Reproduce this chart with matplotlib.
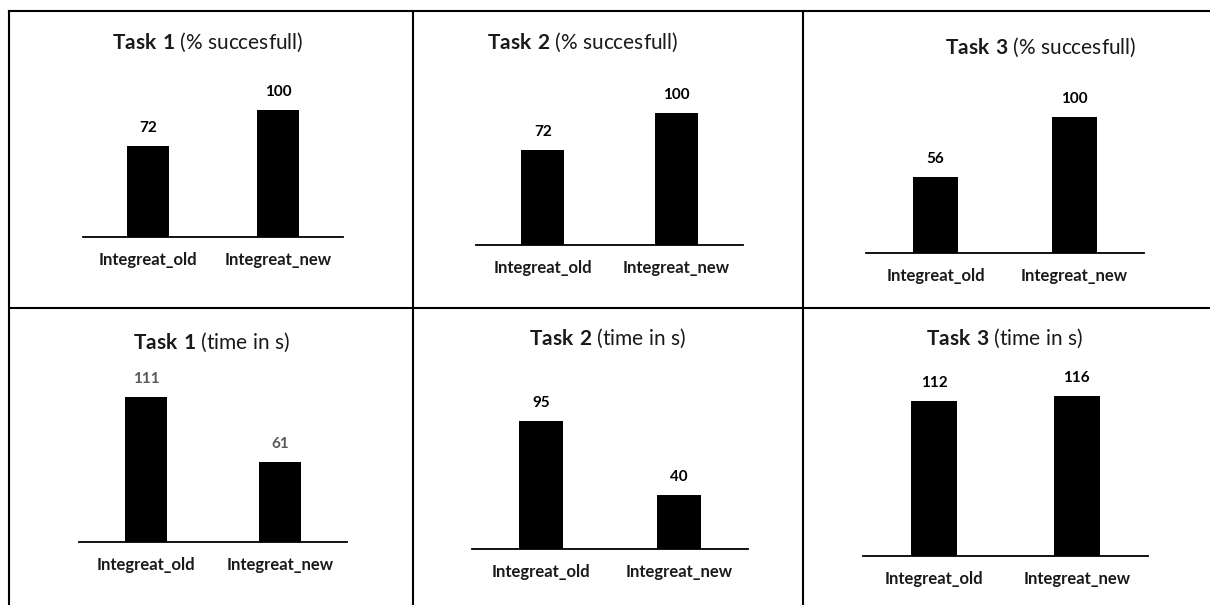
import matplotlib
matplotlib.use("Agg")
import matplotlib.pyplot as plt
from matplotlib.lines import Line2D

plt.rcParams['font.family'] = ['Lato', 'DejaVu Sans']
plt.rcParams['mathtext.fontset'] = 'custom'
plt.rcParams['mathtext.rm'] = 'Lato'
plt.rcParams['mathtext.bf'] = 'Lato:bold'

# data
categories = ["Integreat_old", "Integreat_new"]
tasks = ["Task 1", "Task 2", "Task 3"]
metrics = ["(% succesfull)", "(time in s)"]
success_pct = [[72, 100], [72, 100], [56, 100]]
time_s = [[111, 61], [95, 40], [112, 116]]

W, H = 1210, 605
fig = plt.figure(figsize=(W / 100, H / 100), dpi=100)

# layout per cell in pixels: baseline x0, x1, baseline y, px per unit, title x, title y
layout = [
    (83, 343, 237, 1.27, 208, 42),
    (476, 743, 245, 1.32, 583, 42),
    (866, 1144, 253, 1.36, 1041, 47),
    (79, 347, 542, 1.306, 211, 342),
    (472, 748, 549, 1.347, 607, 338),
    (863, 1148, 556, 1.382, 1004, 338),
]
label_colors = ["black", "black", "black", "#595959", "black", "black"]

rows = [success_pct, time_s]
k = 0
for r, metric in enumerate(metrics):
    for c, task in enumerate(tasks):
        x0, x1, base, scale, tx, ty = layout[k]
        h = 175
        ax = fig.add_axes([x0 / W, 1 - base / H, (x1 - x0) / W, h / H])
        vals = rows[r][c]
        xs = range(len(categories))
        bars = ax.bar(xs, vals, width=0.32, color="black")
        ax.set_xlim(-0.5, 1.5)
        ax.set_ylim(0, h / scale)
        for b, v in zip(bars, vals):
            ax.annotate(str(v), (b.get_x() + b.get_width() / 2, v),
                        xytext=(0, 13), textcoords="offset points",
                        ha="center", va="center", fontsize=11,
                        fontweight="bold", color=label_colors[k])
        ax.set_xticks(list(xs))
        ax.set_xticklabels(categories, fontsize=12, fontweight="bold",
                           color="#1a1a1a")
        ax.tick_params(axis="x", length=0, pad=10.5)
        ax.set_yticks([])
        for s in ["top", "left", "right"]:
            ax.spines[s].set_visible(False)
        ax.spines["bottom"].set_linewidth(1.3)
        ax.patch.set_alpha(0)
        name = task.replace(" ", r"\ ")
        fig.text(tx / W, 1 - ty / H, r"$\bf{" + name + "}$ " + metric,
                 ha="center", va="center", fontsize=15, color="#1a1a1a")
        k += 1

# table grid
def px_line(xa, ya, xb, yb):
    fig.add_artist(Line2D([xa / W, xb / W], [1 - ya / H, 1 - yb / H],
                          transform=fig.transFigure, color="black", lw=1.5))

px_line(9, 11, W, 11)
px_line(9, 308, W, 308)
px_line(9, 11, 9, H)
px_line(413, 11, 413, H)
px_line(803, 11, 803, H)

fig.savefig("out.png", dpi=100)
